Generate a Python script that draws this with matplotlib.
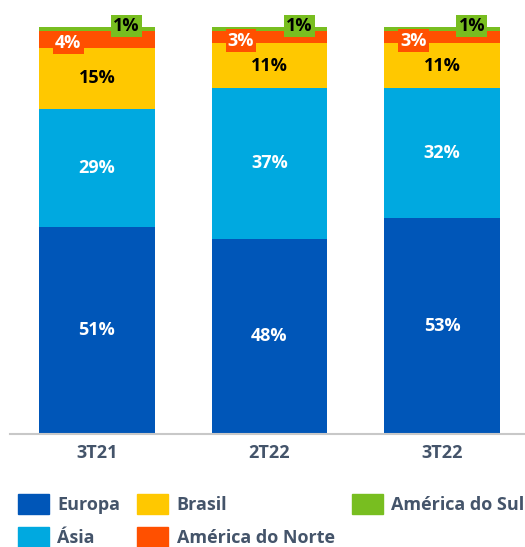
import numpy as np
import matplotlib.pyplot as plt
from matplotlib.patches import Patch

plt.rcParams['font.family'] = ['Open Sans', 'DejaVu Sans']

periods = ["3T21", "2T22", "3T22"]
europa = [51, 48, 53]
asia = [29, 37, 32]
brasil = [15, 11, 11]
am_norte = [4, 3, 3]
am_sul = [1, 1, 1]

series = [
    ("Europa", europa, "#0056B8", "white"),
    ("Ásia", asia, "#00A9E0", "white"),
    ("Brasil", brasil, "#FFC800", "black"),
    ("América do Norte", am_norte, "#FF5000", "white"),
    ("América do Sul", am_sul, "#78BE20", "black"),
]

fs = 13

fig = plt.figure(figsize=(5.25, 5.47), dpi=100)
ax = fig.add_axes([10 / 525, 113 / 547, 515 / 525, 419 / 547])

x = np.arange(len(periods))
width = 0.67
bottom = np.zeros(len(periods))
for name, vals, color, tcolor in series:
    vals = np.array(vals, dtype=float)
    ax.bar(x, vals, width, bottom=bottom, color=color, label=name)
    for i, v in enumerate(vals):
        mid = bottom[i] + v / 2
        if v >= 5:
            ax.text(x[i], mid, f"{v:.0f}%", ha="center", va="center",
                    color=tcolor, fontsize=fs, fontweight="bold")
        elif name == "América do Norte":
            # small label box sits on the left side of the bar
            ax.text(x[i] - 0.165, mid - 0.8, f"{v:.0f}%", ha="center", va="center",
                    color=tcolor, fontsize=fs, fontweight="bold",
                    bbox=dict(boxstyle="square,pad=0.12", fc=color, ec="none"))
        else:
            ax.text(x[i] + 0.172, mid + 0.8, f"{v:.0f}%", ha="center", va="center",
                    color=tcolor, fontsize=fs, fontweight="bold",
                    bbox=dict(boxstyle="square,pad=0.12", fc=color, ec="none"))
    bottom += vals

ax.set_xlim(-0.503, 2.48)
ax.set_ylim(0, 103)
ax.set_xticks(x)
ax.set_xticklabels(periods, fontsize=fs, fontweight="bold", color="#44546A")
ax.tick_params(axis="x", length=0, pad=7)
ax.set_yticks([])
for s in ["top", "right", "left"]:
    ax.spines[s].set_visible(False)
ax.spines["bottom"].set_color("#C8C8C8")
ax.spines["bottom"].set_linewidth(1.5)

handles = [Patch(color=c, label=n) for n, _, c, _ in series]
leg = fig.legend(handles, [s[0] for s in series],
                 ncol=3, loc="upper left", bbox_to_anchor=(18 / 525, 1 - 494 / 547),
                 frameon=False, borderpad=0, borderaxespad=0,
                 handlelength=1.72, handleheight=1.3,
                 columnspacing=0.95, labelspacing=0.75, handletextpad=0.45,
                 prop={"weight": "bold", "size": fs})
for t in leg.get_texts():
    t.set_color("#44546A")

fig.savefig("out.png", dpi=100)
